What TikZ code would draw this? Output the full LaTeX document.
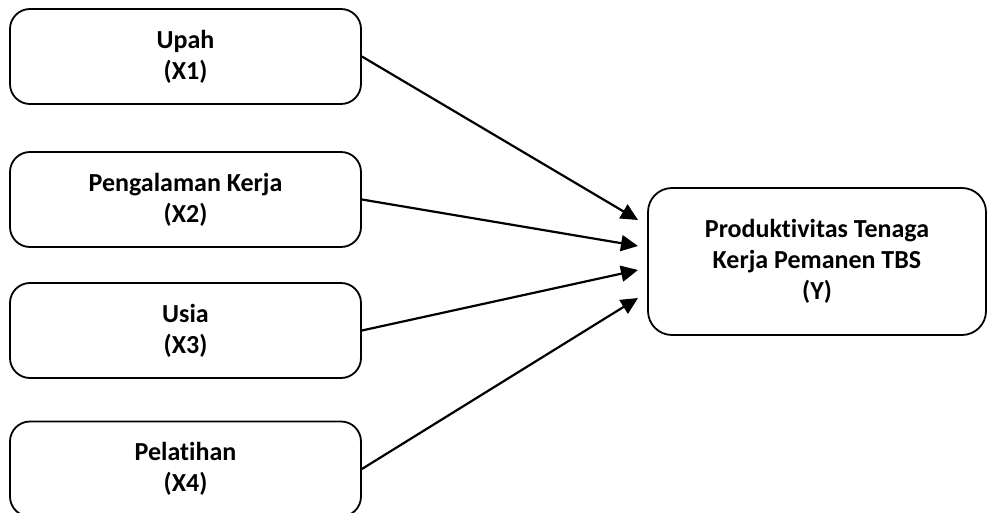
\documentclass[tikz,border=0pt]{standalone}
\usepackage{fontspec}
\setmainfont[Ligatures=NoCommon]{Carlito}
\usetikzlibrary{arrows.meta}
\begin{document}
\begin{tikzpicture}[x=1pt,y=-1pt,
  box/.style={draw=black,line width=1.8pt,rounded corners=20pt,
    minimum width=351pt,minimum height=95pt,align=center,inner sep=0pt,
    font=\fontsize{26}{31}\selectfont\bfseries},
  ybox/.style={box,minimum width=338pt,minimum height=147pt,rounded corners=24pt},
  link/.style={line width=2.2pt,-{Triangle[length=17pt,width=16pt]}}]
\useasboundingbox (0,0) rectangle (989,513);
\node[box] (x1) at (185.5,56.5) {Upah\\(X1)};
\node[box] (x2) at (185.5,199.5) {Pengalaman Kerja\\(X2)};
\node[box] (x3) at (185.5,330.5) {Usia\\(X3)};
\node[box] (x4) at (185.5,469) {Pelatihan\\(X4)};
\node[ybox] (y) at (817,261.5) {Produktivitas Tenaga\\Kerja Pemanen TBS\\(Y)};
\coordinate (t1) at (638,220);
\coordinate (t2) at (638,246);
\coordinate (t3) at (638,270);
\coordinate (t4) at (638,298);
\draw[link] (x1.east) -- (t1);
\draw[link] (x2.east) -- (t2);
\draw[link] (x3.east) -- (t3);
\draw[link] (x4.east) -- (t4);
\end{tikzpicture}
\end{document}
